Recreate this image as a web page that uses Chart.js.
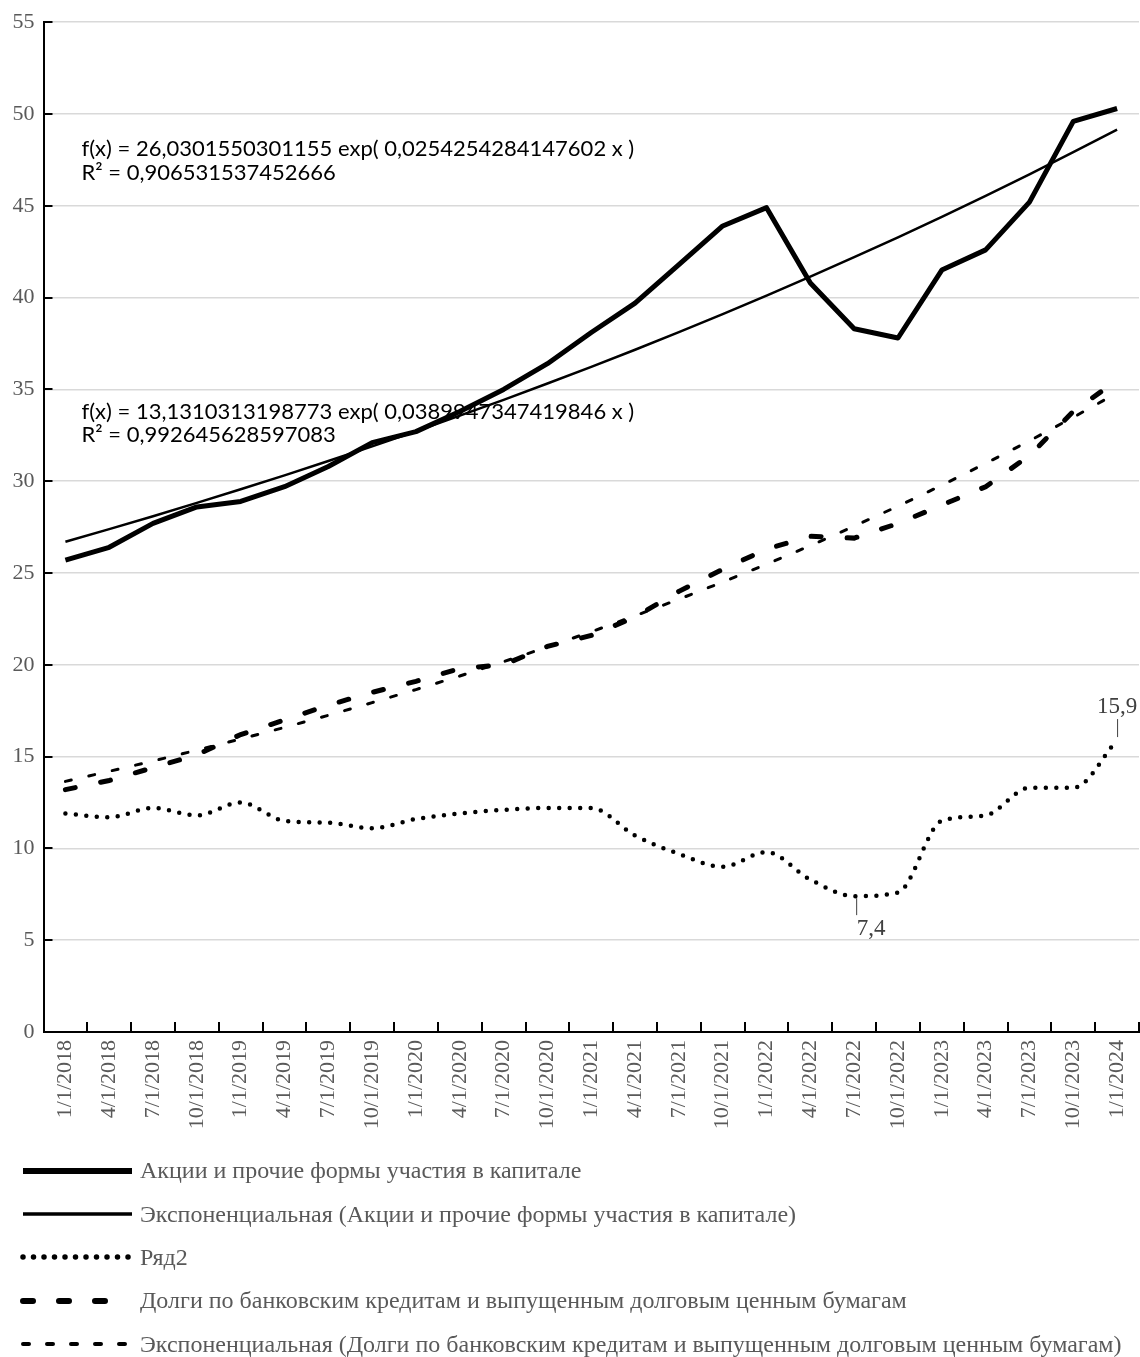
<!DOCTYPE html>
<html><head>
<meta charset="UTF-8">
<title>Акции и долги</title>
<style>
  body { margin: 0; background: #fff; }
  #wrap { position: relative; width: 1140px; height: 1357px; }
  #legend { position: absolute; left: 0; top: 1149px; width: 1140px; }
  .row { height: 43.4px; display: flex; align-items: center; }
  .row svg { margin-left: 20px; flex: none; }
  .row span { margin-left: 5px; font-family: 'Liberation Serif', serif; font-size: 24px; color: #595959; white-space: nowrap; }
</style>
<script src="https://cdn.jsdelivr.net/npm/chart.js@4.4.1/dist/chart.umd.min.js"></script>
</head>
<body>
<div id="wrap">
  <canvas id="chart" width="1140" height="1150"></canvas>
  <div id="legend"></div>
</div>
<script>
// categories (quarters)
const dates = ['1/1/2018','4/1/2018','7/1/2018','10/1/2018','1/1/2019','4/1/2019','7/1/2019','10/1/2019',
  '1/1/2020','4/1/2020','7/1/2020','10/1/2020','1/1/2021','4/1/2021','7/1/2021','10/1/2021',
  '1/1/2022','4/1/2022','7/1/2022','10/1/2022','1/1/2023','4/1/2023','7/1/2023','10/1/2023','1/1/2024'];

// series
const equity = [25.7, 26.4, 27.7, 28.6, 28.9, 29.7, 30.8, 32.1, 32.7, 33.8, 35.0, 36.4, 38.1,
  39.7, 41.8, 43.9, 44.9, 40.8, 38.3, 37.8, 41.5, 42.6, 45.2, 49.6, 50.3];
const equityTrend = [26.70, 27.39, 28.09, 28.82, 29.56, 30.32, 31.10, 31.90, 32.72, 33.57, 34.43,
  35.32, 36.23, 37.16, 38.12, 39.10, 40.11, 41.14, 42.20, 43.28, 44.40, 45.54, 46.71, 47.92, 49.15];
const ryad2 = [11.9, 11.7, 12.2, 11.8, 12.5, 11.5, 11.4, 11.1, 11.6, 11.9, 12.1, 12.2, 12.2,
  10.7, 9.7, 9.0, 9.8, 8.3, 7.4, 7.6, 11.5, 11.8, 13.3, 13.3, 15.9];
const debt = [13.2, 13.7, 14.4, 15.1, 16.2, 17.0, 17.8, 18.5, 19.1, 19.8, 20.0, 21.0, 21.6,
  22.6, 24.0, 25.2, 26.3, 27.0, 26.9, 27.7, 28.7, 29.7, 31.4, 33.8, 35.5];
const debtTrend = [13.65, 14.20, 14.76, 15.35, 15.96, 16.59, 17.25, 17.94, 18.65, 19.39, 20.17,
  20.97, 21.80, 22.67, 23.57, 24.51, 25.48, 26.49, 27.55, 28.64, 29.78, 30.97, 32.20, 33.48, 34.81];

const seriesNames = [
  'Акции и прочие формы участия в капитале',
  'Экспоненциальная (Акции и прочие формы участия в капитале)',
  'Ряд2',
  'Долги по банковским кредитам и выпущенным долговым ценным бумагам',
  'Экспоненциальная (Долги по банковским кредитам и выпущенным долговым ценным бумагам)'
];
const trendNotes = [
  ['f(x) = 26,0301550301155 exp( 0,0254254284147602 x )', 'R² = 0,906531537452666'],
  ['f(x) = 13,1310313198773 exp( 0,0389947347419846 x )', 'R² = 0,992645628597083']
];
const labelledPoints = [18, 24]; // indexes of Ряд2 with value labels

const serif = "'Liberation Serif', 'Times New Roman', serif";
const grey = '#595959';

// ticks inside the plot, trend equations and value labels
const extras = {
  id: 'extras',
  afterDatasetsDraw(chart) {
    const { ctx, chartArea: a, scales: { x, y } } = chart;
    ctx.save();
    ctx.strokeStyle = '#000';
    ctx.lineWidth = 2;
    y.ticks.forEach(t => {
      const py = Math.round(y.getPixelForValue(t.value));
      ctx.beginPath(); ctx.moveTo(a.left, py); ctx.lineTo(a.left + 9, py); ctx.stroke();
    });
    const half = (x.getPixelForValue(1) - x.getPixelForValue(0)) / 2;
    dates.forEach((d, i) => {
      const px = Math.round(x.getPixelForValue(i) + half);
      ctx.beginPath(); ctx.moveTo(px, a.bottom); ctx.lineTo(px, a.bottom - 10); ctx.stroke();
    });

    // trend equations
    ctx.fillStyle = '#000';
    ctx.font = "22px Lato, 'Open Sans', sans-serif";
    ctx.textBaseline = 'middle';
    ctx.textAlign = 'left';
    const noteY = [[48.1, 46.8], [33.8, 32.5]];
    trendNotes.forEach((lines, k) => {
      lines.forEach((txt, j) => ctx.fillText(txt, a.left + 38, y.getPixelForValue(noteY[k][j])));
    });

    // value labels on Ряд2
    const meta = chart.getDatasetMeta(2);
    ctx.font = '23px ' + serif;
    ctx.fillStyle = '#404040';
    ctx.strokeStyle = '#404040';
    ctx.lineWidth = 1;
    ctx.textAlign = 'center';
    labelledPoints.forEach(i => {
      const p = meta.data[i];
      const txt = String(ryad2[i]).replace('.', ',');
      ctx.beginPath();
      if (i === dates.length - 1) {
        ctx.moveTo(p.x + 0.5, p.y - 3); ctx.lineTo(p.x + 0.5, p.y - 21); ctx.stroke();
        ctx.fillText(txt, p.x, p.y - 33);
      } else {
        ctx.moveTo(p.x + 2.5, p.y + 2); ctx.lineTo(p.x + 2.5, p.y + 19); ctx.stroke();
        ctx.fillText(txt, p.x + 17, p.y + 33);
      }
    });
    ctx.restore();
  }
};

const chart = new Chart(document.getElementById('chart'), {
  type: 'line',
  data: {
    labels: dates,
    datasets: [
      { label: seriesNames[0], data: equity, borderColor: '#000', borderWidth: 5, borderJoinStyle: 'round' },
      { label: seriesNames[1], data: equityTrend, borderColor: '#000', borderWidth: 2.5 },
      { label: seriesNames[2], data: ryad2, borderColor: '#000', borderWidth: 4.5, borderDash: [0, 10.5],
        borderCapStyle: 'round', cubicInterpolationMode: 'monotone' },
      { label: seriesNames[3], data: debt, borderColor: '#000', borderWidth: 5, borderDash: [10, 26],
        borderCapStyle: 'round' },
      { label: seriesNames[4], data: debtTrend, borderColor: '#000', borderWidth: 3, borderDash: [6, 18],
        borderCapStyle: 'round' }
    ]
  },
  options: {
    responsive: false,
    animation: false,
    devicePixelRatio: 1,
    layout: { padding: { top: 19, right: 1, left: 0, bottom: 0 } },
    elements: { point: { radius: 0 }, line: { fill: false } },
    plugins: { legend: { display: false }, tooltip: { enabled: false } },
    scales: {
      x: {
        type: 'category',
        offset: true,
        grid: { display: false, drawTicks: false },
        border: { display: true, color: '#000', width: 2 },
        ticks: { autoSkip: false, minRotation: 90, maxRotation: 90, padding: 8,
          color: grey, font: { family: serif, size: 22 } },
        afterFit(s) { s.height = 118; s.paddingLeft = 0; s.paddingRight = 0; }
      },
      y: {
        min: 0, max: 55,
        ticks: { stepSize: 5, padding: 9, color: grey, font: { family: serif, size: 22 } },
        grid: { drawTicks: false, lineWidth: 1.5,
          color: c => c.tick && c.tick.value === 0 ? 'rgba(0,0,0,0)' : '#d9d9d9' },
        border: { display: true, color: '#000', width: 2 },
        afterFit(s) { s.width = 43.5; }
      }
    }
  },
  plugins: [extras]
});

// legend below the chart
const legend = document.getElementById('legend');
chart.data.datasets.forEach(ds => {
  const row = document.createElement('div');
  row.className = 'row';
  const dash = (ds.borderDash || []).join(' ');
  const end = dash ? 110 : 112;
  row.innerHTML = '<svg width="115" height="12"><line x1="3" y1="6" x2="' + end + '" y2="6" stroke="#000" stroke-width="' +
    (ds.borderWidth + 1) + '" stroke-linecap="' + (ds.borderCapStyle || 'butt') + '"' +
    (dash ? ' stroke-dasharray="' + dash + '"' : '') + '/></svg>';
  const span = document.createElement('span');
  span.textContent = ds.label;
  row.appendChild(span);
  legend.appendChild(row);
});
</script>
</body></html>
